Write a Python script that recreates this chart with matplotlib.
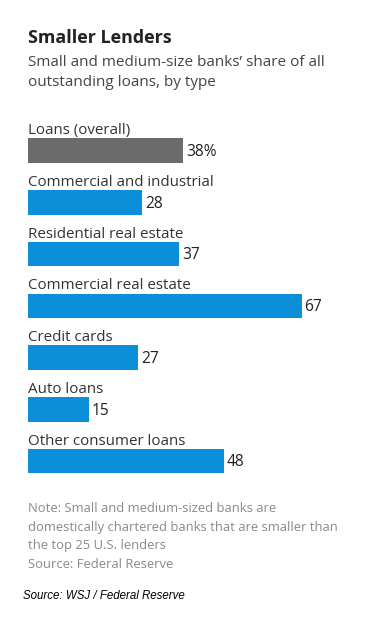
import matplotlib
matplotlib.use("Agg")
import matplotlib.pyplot as plt

# Smaller lenders: share of outstanding loans held by small/medium banks
categories = ["Loans (overall)", "Commercial and industrial", "Residential real estate",
              "Commercial real estate", "Credit cards", "Auto loans", "Other consumer loans"]
shares = [38, 28, 37, 67, 27, 15, 48]
value_labels = ["38%", "28", "37", "67", "27", "15", "48"]
bar_colors = ["#6b6b6b"] + ["#0a8fd8"] * 6

plt.rcParams['font.family'] = ['Open Sans', 'DejaVu Sans']

W, H = 378, 617
fig = plt.figure(figsize=(W / 100, H / 100), dpi=100)
fig.patch.set_facecolor("white")

# axes placed in pixel terms: bars start at x=28, row pitch ~51.75 px
row = 51.75
top_px = 150.5 - row / 2
bot_px = top_px + row * len(categories)
ax = fig.add_axes([28 / W, 1 - bot_px / H, 322 / W, (bot_px - top_px) / H])
ax.set_xlim(0, 322 / 4.085)
ax.set_ylim(len(categories) - 0.5, -0.5)
ax.axis("off")

bh = 24.5 / row
ax.barh(range(len(categories)), shares, height=bh, color=bar_colors, edgecolor="none")

for i, (cat, v, lab) in enumerate(zip(categories, shares, value_labels)):
    ax.annotate(cat, (0, i - bh / 2), xytext=(0, 3), textcoords="offset points",
                ha="left", va="baseline", fontsize=10.9, color="#333333")
    ax.annotate(lab, (v, i), xytext=(2, -1), textcoords="offset points",
                ha="left", va="center", fontsize=11.2, color="#222222")

# header
fig.text(28 / W, 1 - 38 / H, "Smaller Lenders", fontsize=12.9, fontweight="bold",
         color="#222222", va="center", ha="left")
fig.text(28 / W, 1 - 62 / H, "Small and medium-size banks\u2019 share of all",
         fontsize=10.95, color="#444444", va="center", ha="left")
fig.text(28 / W, 1 - 83 / H, "outstanding loans, by type",
         fontsize=10.95, color="#444444", va="center", ha="left")

# notes
notes = ["Note: Small and medium-sized banks are",
         "domestically chartered banks that are smaller than",
         "the top 25 U.S. lenders",
         "Source: Federal Reserve"]
for k, line in enumerate(notes):
    fig.text(28 / W, 1 - (508 + 19 * k) / H, line, fontsize=9.35, color="#8a8a8a",
             va="center", ha="left")

fig.text(23 / W, 1 - 596 / H, "Source: WSJ / Federal Reserve", fontsize=8.3,
         style="italic", color="black", va="center", ha="left",
         family=["Liberation Sans", "DejaVu Sans"])

fig.savefig("out.png", dpi=100, facecolor="white")
